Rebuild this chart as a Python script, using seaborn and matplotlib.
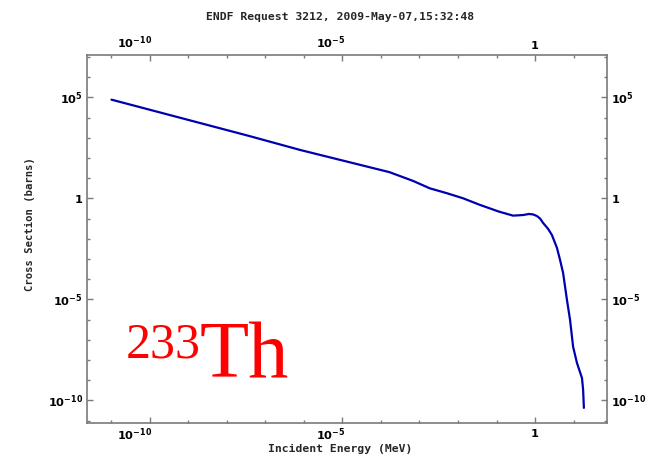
import numpy as np
import pandas as pd
import matplotlib
matplotlib.use('Agg')
import matplotlib.pyplot as plt
import matplotlib.ticker as mticker
import matplotlib.transforms as mtransforms
import seaborn as sns

# ---- data ----
energy_mev = [1e-11, 3.8e-8, 7.94e-7, 1.66e-4, 6.76e-4, 1.86e-3, 5.13e-3,
              1.35e-2, 3.72e-2, 0.115, 0.269, 0.49, 0.692, 0.891, 1.12,
              1.35, 1.62, 2.19, 2.75, 3.72, 4.47, 5.37, 6.76, 8.13, 9.77,
              12.3, 16.6, 17.8, 18.6]
cross_section_barns = [7.76e4, 1230, 251, 20.0, 7.41, 3.16, 1.82,
                       1.02, 0.479, 0.224, 0.141, 0.151, 0.170, 0.162, 0.135,
                       0.102, 0.0617, 0.031, 0.0155, 3.55e-3, 9.1e-4, 2.04e-4,
                       9.5e-6, 9.8e-7, 4.5e-8, 7.2e-9, 1.29e-9, 3.3e-10, 4.3e-11]
major_x_ticks = [1e-10, 1e-5, 1.0]
major_x_labels = [r'$\mathbf{10^{-10}}$', r'$\mathbf{10^{-5}}$', r'$\mathbf{1}$']
major_y_ticks = [1e-10, 1e-5, 1.0, 1e5]
major_y_labels = [r'$\mathbf{10^{-10}}$', r'$\mathbf{10^{-5}}$', r'$\mathbf{1}$', r'$\mathbf{10^{5}}$']
title_text = 'ENDF Request 3212, 2009-May-07,15:32:48'
x_label = 'Incident Energy (MeV)'
y_label = 'Cross Section (barns)'

df = pd.DataFrame({'E': energy_mev, 'sigma': cross_section_barns})

sns.set_theme(style='white')
plt.rcParams['mathtext.fontset'] = 'dejavusans'

W, H = 651, 454
fig = plt.figure(figsize=(W / 100, H / 100), dpi=100)
ax_l, ax_r, ax_t, ax_b = 87, 607, 55, 422.5
ax = fig.add_axes([ax_l / W, 1 - ax_b / H, (ax_r - ax_l) / W, (ax_b - ax_t) / H])

sns.lineplot(data=df, x='E', y='sigma', ax=ax, color='#0000b0', linewidth=1.6,
             estimator=None, sort=False, legend=False)

ax.set_xscale('log')
ax.set_yscale('log')
ax.set_xlim(10 ** -11.636, 10 ** 1.87)
ax.set_ylim(10 ** -11.09, 10 ** 7.10)

ax.xaxis.set_major_locator(mticker.FixedLocator(major_x_ticks))
ax.xaxis.set_major_formatter(mticker.FixedFormatter(major_x_labels))
ax.yaxis.set_major_locator(mticker.FixedLocator(major_y_ticks))
ax.yaxis.set_major_formatter(mticker.FixedFormatter(major_y_labels))
ax.xaxis.set_minor_locator(mticker.LogLocator(base=10, subs=[1.0], numticks=40))
ax.yaxis.set_minor_locator(mticker.LogLocator(base=10, subs=[1.0], numticks=40))
ax.xaxis.set_minor_formatter(mticker.NullFormatter())
ax.yaxis.set_minor_formatter(mticker.NullFormatter())

spine_col = '#7a7a7a'
for s in ax.spines.values():
    s.set_color(spine_col)
    s.set_linewidth(1.2)

ax.tick_params(which='both', direction='in', top=True, right=True, bottom=True, left=True,
               labeltop=True, labelright=True, colors=spine_col, labelcolor='black',
               labelsize=8.2)
ax.tick_params(which='major', length=4.5, width=1.0, pad=3)
ax.tick_params(which='minor', length=2.5, width=1.0)

fig.canvas.draw()
off = mtransforms.ScaledTranslation(2 / 72, 0, fig.dpi_scale_trans)
for tick in ax.xaxis.get_major_ticks():
    for lab in (tick.label1, tick.label2):
        if '10' in lab.get_text():
            lab.set_horizontalalignment('right')
            lab.set_transform(lab.get_transform() + off)

mono = ['DejaVu Sans Mono']
ax.set_xlabel(x_label, fontfamily=mono, fontweight='bold', fontsize=8.2, va='center')
ax.xaxis.set_label_coords((340 - ax_l) / (ax_r - ax_l), (ax_b - 448.5) / (ax_b - ax_t))
ax.set_ylabel(y_label, fontfamily=mono, fontweight='bold', fontsize=7.6, va='center', ha='center')
ax.yaxis.set_label_coords((30 - ax_l) / (ax_r - ax_l), (ax_b - 224) / (ax_b - ax_t))

fig.text(340 / W, 1 - 17 / H, title_text, ha='center', va='center',
         fontfamily=mono, fontweight='bold', fontsize=8.2)

serif = ['Liberation Serif', 'DejaVu Serif']
ax.text((126 - ax_l) / (ax_r - ax_l), (ax_b - 358) / (ax_b - ax_t), '233',
        transform=ax.transAxes, fontfamily=serif, fontsize=36, color='#ff0000',
        ha='left', va='baseline')
ax.text((200 - ax_l) / (ax_r - ax_l), (ax_b - 377) / (ax_b - ax_t), 'Th',
        transform=ax.transAxes, fontfamily=serif, fontsize=58, color='#ff0000',
        ha='left', va='baseline')

fig.savefig('out.png', dpi=100, facecolor='white')
